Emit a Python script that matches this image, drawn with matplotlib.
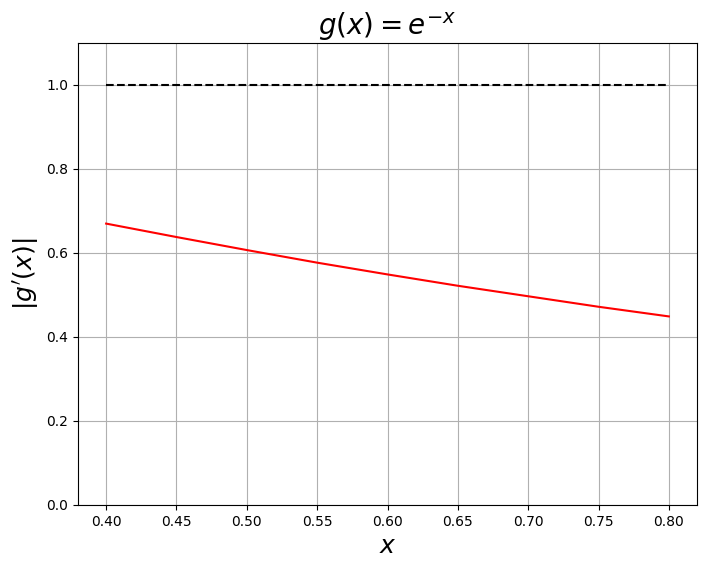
import matplotlib
matplotlib.use("Agg")
import matplotlib.pyplot as plt

x_vals = [0.40, 0.45, 0.50, 0.55, 0.60, 0.65, 0.70, 0.75, 0.80]
deriv_vals = [0.670, 0.638, 0.607, 0.577, 0.549, 0.522, 0.497, 0.472, 0.449]
bound_x = [0.40, 0.80]
bound_y = [1.0, 1.0]

fig = plt.figure(figsize=(7.07, 5.68), dpi=100)
ax = fig.add_axes([78/707, 1-505/568, (697-78)/707, (505-43)/568])
ax.plot(x_vals, deriv_vals, color='red')
ax.plot(bound_x, bound_y, 'k--')
ax.set_ylim(0, 1.1)
ax.set_xticks([0.40, 0.45, 0.50, 0.55, 0.60, 0.65, 0.70, 0.75, 0.80])
ax.grid(True)
ax.set_title(r'$g(x)=e^{-x}$', fontsize=20)
ax.set_xlabel(r'$x$', fontsize=18)
ax.set_ylabel(r"$|g'(x)|$", fontsize=18)
fig.savefig('out.png', dpi=100)
